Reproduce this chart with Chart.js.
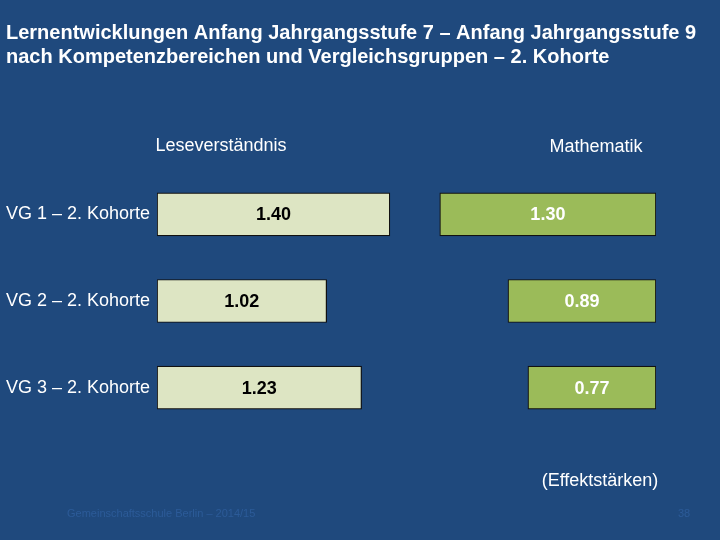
<!DOCTYPE html>
<html>
<head>
<meta charset="utf-8">
<script src="https://cdn.jsdelivr.net/npm/chart.js@4/dist/chart.umd.min.js"></script>
<style>
  html, body { margin: 0; padding: 0; background: #1f497d; }
  #wrap { width: 720px; height: 540px; }
</style>
</head>
<body>
<div id="wrap"><canvas id="chart" width="720" height="540"></canvas></div>
<script>
const groups = ["VG 1 – 2. Kohorte", "VG 2 – 2. Kohorte", "VG 3 – 2. Kohorte"];
const lese = [1.40, 1.02, 1.23];
const mathe = [1.30, 0.89, 0.77];
const titleLines = [
  "Lernentwicklungen Anfang Jahrgangsstufe 7 – Anfang Jahrgangsstufe 9",
  "nach Kompetenzbereichen und Vergleichsgruppen – 2. Kohorte",
];
const panelHeaders = ["Leseverständnis", "Mathematik"];
const unitNote = "(Effektstärken)";
const footerLeft = "Gemeinschaftsschule Berlin – 2014/15";
const footerRight = "38";

const font = "'Liberation Sans', Arial, sans-serif";

// texts around the plot and the value labels inside the bars
const textPlugin = {
  id: "texts",
  afterDatasetsDraw(chart) {
    const ctx = chart.ctx;
    ctx.save();
    ctx.textBaseline = "middle";

    ctx.fillStyle = "#ffffff";
    ctx.textAlign = "left";
    ctx.font = "bold 20px " + font;
    titleLines.forEach((t, i) => ctx.fillText(t, 6, 33 + i * 24));

    ctx.font = "18px " + font;
    ctx.textAlign = "center";
    ctx.fillText(panelHeaders[0], 221, 146);
    ctx.fillText(panelHeaders[1], 596, 147);
    ctx.fillText(unitNote, 600, 481);

    ctx.fillStyle = "#2c5b98";
    ctx.font = "11px " + font;
    ctx.textAlign = "left";
    ctx.fillText(footerLeft, 67, 514);
    ctx.fillText(footerRight, 678, 514);

    ctx.font = "bold 18px " + font;
    ctx.textAlign = "center";
    chart.data.datasets.forEach((ds, di) => {
      ctx.fillStyle = di === 0 ? "#000000" : "#ffffff";
      chart.getDatasetMeta(di).data.forEach((bar, i) => {
        const cx = (bar.x + bar.base) / 2;
        ctx.fillText(ds.data[i].toFixed(2), cx, bar.y + 1);
      });
    });
    ctx.restore();
  },
};

new Chart("chart", {
  type: "bar",
  data: {
    labels: groups,
    datasets: [
      {
        data: lese,
        xAxisID: "x",
        backgroundColor: "#dde5c3",
        borderColor: "#111111",
        borderWidth: 1.2,
        borderSkipped: false,
        grouped: false,
        barThickness: 43,
      },
      {
        data: mathe,
        xAxisID: "x2",
        backgroundColor: "#9bbb59",
        borderColor: "#111111",
        borderWidth: 1.2,
        borderSkipped: false,
        grouped: false,
        barThickness: 43,
      },
    ],
  },
  options: {
    indexAxis: "y",
    responsive: false,
    animation: false,
    devicePixelRatio: 1,
    layout: { padding: { top: 171, bottom: 109, left: 6, right: 64 } },
    plugins: {
      legend: { display: false },
      title: { display: false },
      tooltip: { enabled: false },
    },
    scales: {
      x: { display: false, min: 0, max: 3 },
      x2: { display: false, min: 0, max: 3, reverse: true },
      y: {
        grid: { display: false },
        border: { display: false },
        afterFit: (axis) => { axis.width = 151; },
        ticks: {
          color: "#ffffff",
          crossAlign: "far",
          font: { size: 18, family: font },
        },
      },
    },
  },
  plugins: [textPlugin],
});
</script>
</body>
</html>
